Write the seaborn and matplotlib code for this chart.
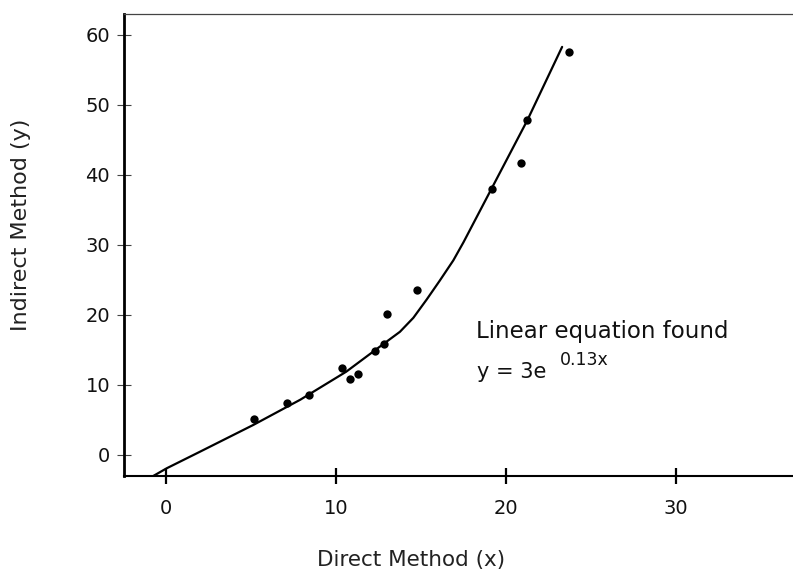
import matplotlib
matplotlib.use("Agg")
import matplotlib.pyplot as plt
import seaborn as sns
import pandas as pd

# Observed data points (Direct Method x, Indirect Method y)
point_x = [5.2, 7.1, 8.4, 10.35, 10.8, 11.3, 12.3, 12.8, 13.0, 14.75, 19.15, 20.9, 21.25, 23.7]
point_y = [5.1, 7.5, 8.6, 12.5, 10.9, 11.6, 14.9, 15.8, 20.1, 23.6, 38.0, 41.7, 47.8, 57.6]

# Fitted curve
curve_x = [-0.75, 0.04, 2.0, 5.14, 7.9, 10.6, 12.7, 13.76, 14.55, 15.33, 16.1, 16.9, 17.5, 19.16, 21.25, 23.3]
curve_y = [-3.0, -1.9, 0.47, 4.3, 7.9, 11.9, 15.7, 17.6, 19.6, 22.2, 24.9, 27.8, 30.4, 38.1, 47.8, 58.3]

x_ticks = [0, 10, 20, 30]
y_ticks = [0, 10, 20, 30, 40, 50, 60]

sns.set_theme(style="ticks")
plt.rcParams["font.family"] = ["DejaVu Sans"]

fig = plt.figure(figsize=(7.93, 5.69), dpi=100)
ax = fig.add_axes([124 / 793, 1 - 476 / 569, (793 - 124) / 793, (476 - 14) / 569])

pts = pd.DataFrame({"x": point_x, "y": point_y})
crv = pd.DataFrame({"x": curve_x, "y": curve_y})

sns.lineplot(data=crv, x="x", y="y", sort=False, estimator=None, color="black",
             linewidth=1.6, ax=ax)
sns.scatterplot(data=pts, x="x", y="y", color="black", s=36, edgecolor="black",
                linewidth=0, ax=ax, zorder=3)

ax.set_xlim(-2.47, 36.88)
ax.set_ylim(-3.0, 63.0)
ax.set_xticks(x_ticks)
ax.set_yticks(y_ticks)
ax.set_xticklabels([str(t) for t in x_ticks], fontsize=14, color="#111")
ax.set_yticklabels([str(t) for t in y_ticks], fontsize=14, color="#111")

ax.tick_params(axis="x", bottom=True, direction="inout", length=11, width=1.6,
               color="black", pad=11)
ax.tick_params(axis="y", left=True, direction="inout", length=10, width=0.8,
               color="#444", pad=5)

ax.spines["right"].set_visible(False)
ax.spines["left"].set_linewidth(2.0)
ax.spines["left"].set_color("black")
ax.spines["bottom"].set_linewidth(1.5)
ax.spines["bottom"].set_color("black")
ax.spines["top"].set_visible(True)
ax.spines["top"].set_linewidth(0.9)
ax.spines["top"].set_color("#444")

ax.set_xlabel("Direct Method (x)", fontsize=15.5, color="#222")
ax.set_ylabel("Indirect Method (y)", fontsize=16, color="#222")
ax.xaxis.set_label_coords((411 - 124) / (793 - 124), -(550 - 476) / (476 - 14))
ax.yaxis.set_label_coords(-(124 - 31) / (793 - 124), (476 - 225) / (476 - 14))

ax.text(476 / 793, 1 - 338 / 569, "Linear equation found", transform=fig.transFigure,
        fontsize=16.5, color="#111", ha="left", va="baseline")
ax.text(477 / 793, 1 - 378 / 569, "y = 3e", transform=fig.transFigure,
        fontsize=15, color="#111", ha="left", va="baseline")
ax.text(560 / 793, 1 - 365 / 569, "0.13x", transform=fig.transFigure,
        fontsize=12.5, color="#111", ha="left", va="baseline")

fig.savefig("out.png", dpi=100)
